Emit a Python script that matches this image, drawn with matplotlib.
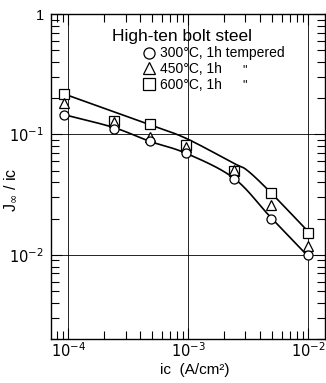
import numpy as np
import matplotlib
matplotlib.use("Agg")
import matplotlib.pyplot as plt
from matplotlib.ticker import LogLocator, FixedLocator, FuncFormatter, NullFormatter
from matplotlib.lines import Line2D

plt.rcParams['font.family'] = ['Liberation Sans Narrow', 'Liberation Sans', 'DejaVu Sans']
plt.rcParams['mathtext.fontset'] = 'custom'
plt.rcParams['mathtext.rm'] = 'Liberation Sans Narrow'
plt.rcParams['mathtext.it'] = 'Liberation Sans Narrow'

# ---- data ----
ic = [9.2e-5, 2.4e-4, 4.8e-4, 9.6e-4, 2.4e-3, 4.9e-3, 1.0e-2]
r300 = [0.146, 0.110, 0.0875, 0.0703, 0.0423, 0.0200, 0.0100]
r450 = [0.181, 0.126, 0.0954, 0.0780, 0.0504, 0.0261, 0.0119]
r600 = [0.217, 0.129, 0.121, 0.0824, 0.0497, 0.0327, 0.0151]

# fitted curves drawn by hand in the original
upper_x = [9.2e-5, 4.7e-4, 9.6e-4, 2.4e-3, 3.1e-3, 4.8e-3, 1.0e-2]
upper_y = [0.217, 0.121, 0.0927, 0.0575, 0.0503, 0.0334, 0.0156]
lower_x = [9.2e-5, 2.4e-4, 4.7e-4, 9.6e-4, 2.4e-3, 4.8e-3, 1.0e-2]
lower_y = [0.146, 0.114, 0.088, 0.0697, 0.0433, 0.0208, 0.0097]

labels = ["300\u00b0C, 1h tempered", "450\u00b0C, 1h", "600\u00b0C, 1h"]
legend_title = "High-ten bolt steel"
xticks = [1e-4, 1e-3, 1e-2]
yticks = [1e-2, 1e-1, 1]
ytick_labels = {1e-2: r"$10^{-2}$", 1e-1: r"$10^{-1}$", 1: "1"}


def smooth(xs, ys, n=30):
    """Catmull-Rom curve through the nodes, in log-log space."""
    P = np.column_stack([np.log10(xs), np.log10(ys)])
    P = np.vstack([2 * P[0] - P[1], P, 2 * P[-1] - P[-2]])
    out = []
    for i in range(1, len(P) - 2):
        p0, p1, p2, p3 = P[i - 1], P[i], P[i + 1], P[i + 2]
        t = np.linspace(0, 1, n)[:, None]
        seg = 0.5 * ((2 * p1) + (-p0 + p2) * t + (2 * p0 - 5 * p1 + 4 * p2 - p3) * t ** 2
                     + (-p0 + 3 * p1 - 3 * p2 + p3) * t ** 3)
        out.append(seg)
    out = np.vstack(out)
    return 10 ** out[:, 0], 10 ** out[:, 1]


fig = plt.figure(figsize=(3.26, 3.83), dpi=100)
ax = fig.add_axes([51 / 326, 44 / 383, 274 / 326, 325 / 383])
ax.set_xscale('log')
ax.set_yscale('log')
ax.set_xlim(7.18e-5, 1.38e-2)
ax.set_ylim(2.0e-3, 1.0)

# grid at major decades
for x in xticks:
    ax.axvline(x, color='black', lw=0.6, zorder=1)
for y in yticks[:-1]:
    ax.axhline(y, color='black', lw=0.6, zorder=1)

ux, uy = smooth(upper_x, upper_y)
lx, ly = smooth(lower_x, lower_y)
ax.plot(ux, uy, color='black', lw=1.2, zorder=2)
ax.plot(lx, ly, color='black', lw=1.2, zorder=2)

mk = dict(mfc='white', mec='black', mew=0.9, ms=6.5, ls='none', zorder=3)
ax.plot(ic, r600, marker='s', **mk)
ax.plot(ic, r450, marker='^', **mk)
ax.plot(ic, r300, marker='o', **mk)

# ticks
ax.xaxis.set_major_locator(FixedLocator(xticks))
ax.xaxis.set_minor_locator(LogLocator(base=10, subs=np.arange(2, 10)))
ax.yaxis.set_major_locator(FixedLocator(yticks))
ax.yaxis.set_minor_locator(LogLocator(base=10, subs=np.arange(2, 10)))
ax.xaxis.set_major_formatter(FuncFormatter(lambda v, p: r"$10^{%d}$" % round(np.log10(v))))
ax.yaxis.set_major_formatter(FuncFormatter(lambda v, p: ytick_labels.get(v, "")))
ax.xaxis.set_minor_formatter(NullFormatter())
ax.yaxis.set_minor_formatter(NullFormatter())
ax.tick_params(which='both', direction='in', top=True, right=True, width=0.8, colors='black')
ax.tick_params(which='major', length=8, labelsize=10.5, pad=5)
ax.tick_params(axis='x', which='major', pad=2)
ax.tick_params(which='minor', length=6)
for s in ax.spines.values():
    s.set_linewidth(1.0)

ax.set_xlabel("ic  (A/cm\u00b2)", fontsize=11)
ax.xaxis.set_label_coords(0.526, -0.074)
ax.set_ylabel(r"J$_{\infty}$ / ic", fontsize=11.5)
ax.yaxis.set_label_coords(-0.115, 0.46)

# legend
handles = [Line2D([], [], marker=m, **{**mk, 'ms': 8}) for m in ['o', '^', 's']]
ax.text(0.223, 0.932, legend_title, transform=ax.transAxes, fontsize=12.5,
        ha='left', va='center')
leg = ax.legend(handles, labels, loc='upper left', bbox_to_anchor=(0.335, 0.9),
                frameon=False, fontsize=10, handlelength=0.9, handletextpad=0.35,
                labelspacing=0.13, borderpad=0.0, borderaxespad=0.0)
for yy in (0.826, 0.78):
    ax.text(0.708, yy, '"', transform=ax.transAxes, fontsize=9, ha='center', va='center')

fig.savefig("out.png", dpi=100)
